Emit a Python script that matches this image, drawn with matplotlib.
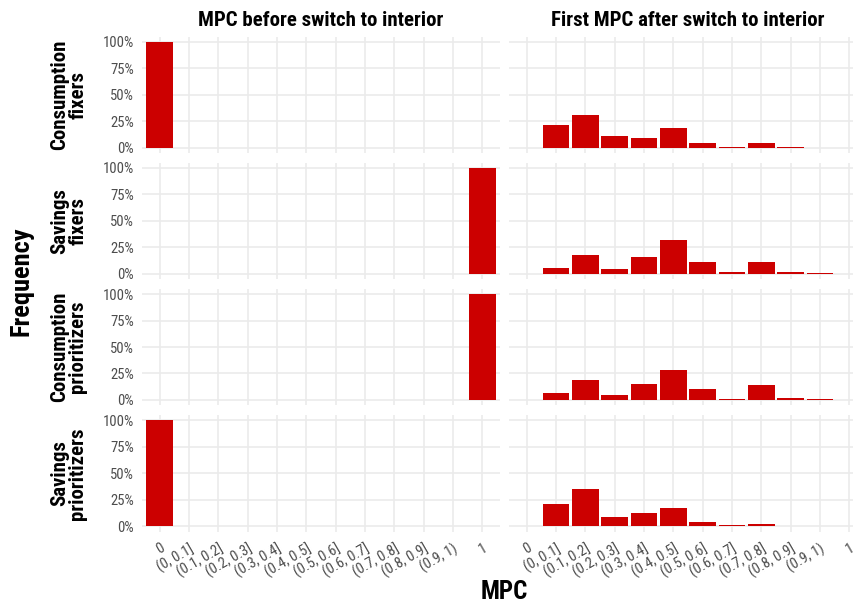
import matplotlib
matplotlib.use("Agg")
import matplotlib.pyplot as plt
import numpy as np

plt.rcParams['font.family'] = ['Roboto Condensed', 'Roboto', 'DejaVu Sans']

# categories of the MPC bins
categories = ["0", "(0, 0.1]", "(0.1, 0.2]", "(0.2, 0.3]", "(0.3, 0.4]", "(0.4, 0.5]",
              "(0.5, 0.6]", "(0.6, 0.7]", "(0.7, 0.8]", "(0.8, 0.9]", "(0.9, 1)", "1"]

row_labels = ["Consumption\nfixers", "Savings\nfixers",
              "Consumption\nprioritizers", "Savings\nprioritizers"]
col_titles = ["MPC before switch to interior", "First MPC after switch to interior"]

# percent per bin, before the switch
before_cons_fixers = [100, 0, 0, 0, 0, 0, 0, 0, 0, 0, 0, 0]
before_sav_fixers = [0, 0, 0, 0, 0, 0, 0, 0, 0, 0, 0, 100]
before_cons_prior = [0, 0, 0, 0, 0, 0, 0, 0, 0, 0, 0, 100]
before_sav_prior = [100, 0, 0, 0, 0, 0, 0, 0, 0, 0, 0, 0]

# percent per bin, first after the switch
after_cons_fixers = [0, 21.3, 31.2, 10.8, 9.0, 18.2, 4.3, 0.6, 4.3, 0.6, 0, 0]
after_sav_fixers = [0, 5.1, 17.7, 4.4, 15.8, 31.6, 11.0, 1.3, 11.0, 1.3, 0.6, 0]
after_cons_prior = [0, 6.2, 19.3, 4.3, 15.5, 28.6, 9.9, 0.6, 13.7, 1.6, 0.6, 0]
after_sav_prior = [0, 21.0, 35.4, 8.4, 12.5, 16.8, 3.8, 1.2, 2.2, 0, 0, 0]

data = [[before_cons_fixers, after_cons_fixers],
        [before_sav_fixers, after_sav_fixers],
        [before_cons_prior, after_cons_prior],
        [before_sav_prior, after_sav_prior]]

W, H = 854, 603
fig = plt.figure(figsize=(W / 100, H / 100), dpi=100)

col_left = [142.1, 509.1]
col_width = 357.8
row_top = [36.7, 162.7, 288.9, 415.2]
row_height = 116.3

grid_col = "#EBEBEB"
bar_col = "#CC0000"
tick_col = "#4D4D4D"
x = np.arange(len(categories))

for r in range(4):
    for c in range(2):
        ax = fig.add_axes([col_left[c] / W, 1 - (row_top[r] + row_height) / H,
                           col_width / W, row_height / H])
        ax.bar(x, data[r][c], width=0.9, color=bar_col, zorder=3)
        ax.set_xlim(-0.6, len(categories) - 0.4)
        ax.set_ylim(-5, 105)
        ax.set_xticks(x)
        ax.set_yticks([0, 25, 50, 75, 100])
        ax.grid(True, color=grid_col, linewidth=1.2, zorder=0)
        for s in ax.spines.values():
            s.set_visible(False)
        ax.tick_params(length=0, colors=tick_col, labelsize=10.5, pad=6)
        if c == 0:
            ax.set_yticklabels(["0%", "25%", "50%", "75%", "100%"])
            ax.set_ylabel(row_labels[r], fontsize=15, fontweight="bold",
                          color="black", labelpad=11, linespacing=0.93)
        else:
            ax.set_yticklabels([])
        if r == 3:
            ax.set_xticklabels(categories, rotation=30, ha="right", va="top",
                               rotation_mode="anchor")
            ax.tick_params(axis="x", pad=7)
        else:
            ax.set_xticklabels([])
        if r == 0:
            ax.set_title(col_titles[c], fontsize=15, fontweight="bold", pad=8)

fig.text(22 / W, 1 - 281 / H, "Frequency", rotation=90, ha="center", va="center",
         fontsize=19, fontweight="bold")
fig.text(504 / W, 1 - 592 / H, "MPC", ha="center", va="center",
         fontsize=18, fontweight="bold")

fig.savefig("out.png", dpi=100, facecolor="white")
